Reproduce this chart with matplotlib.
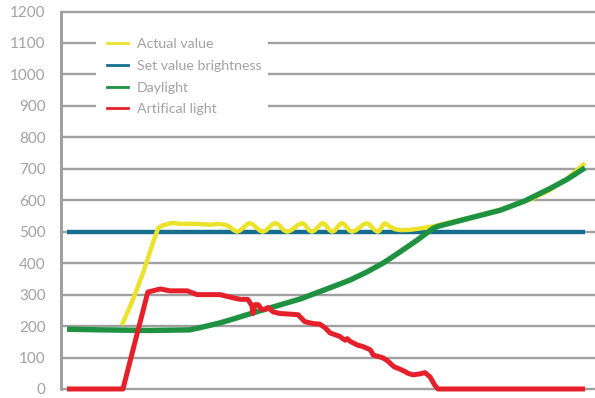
import matplotlib
matplotlib.use("Agg")
import matplotlib.pyplot as plt
from matplotlib.lines import Line2D
from matplotlib.patches import Rectangle

# ---- data (time in arbitrary units 0..100, values in lux) ----
set_t = [0, 100]
set_v = [500, 500]

actual_t = [10.6, 12.7, 14.7, 16.6, 17.6, 18.5, 20.3, 21.8, 25.1, 27.6, 29.2, 30.5,
            31.2, 32.1,
            32.8, 33.4, 34.05, 34.7, 35.3, 35.9, 36.55, 37.2,
            37.8, 38.4, 39.0, 39.6, 40.2, 40.8, 41.35, 41.9,
            42.5, 43.2, 43.95, 44.7, 45.4, 45.9, 46.35, 46.8,
            47.3, 47.8, 48.35, 48.9, 49.4, 49.85, 50.3, 50.75,
            51.2, 51.7, 52.15, 52.6, 53.1, 53.6, 54.05, 54.5,
            55.0, 55.7, 56.45, 57.2, 57.9, 58.4, 58.95, 59.5,
            60.0, 60.35, 60.7, 61.05, 61.4,
            62.3, 63.3, 64.5, 66.2, 68.1, 71.0, 77.2, 83.6, 90.0, 93.2, 96.5, 100]
actual_v = [203, 283, 370, 465, 512, 520, 528, 525, 525, 522, 525, 522,
            518, 506,
            500, 504, 513, 523, 527, 523, 513, 504,
            500, 504, 513, 523, 527, 523, 513, 504,
            500, 504, 513, 523, 527, 523, 513, 504,
            500, 504, 513, 523, 527, 523, 513, 504,
            500, 504, 513, 523, 527, 523, 513, 504,
            500, 504, 513, 523, 527, 523, 513, 504,
            500, 504, 513, 523, 527,
            517, 508, 505, 506, 510, 518, 542, 570, 606, 632, 668, 718]

day_t = [0, 6.4, 16.0, 23.7, 25.7, 29.5, 32.0, 35.9, 38.6, 42.5, 45.0, 50.8,
         54.6, 57.9, 61.2, 64.3, 67.5, 70.7, 71.6, 77.2, 83.6, 88.4, 93.2, 96.5, 100]
day_v = [190, 188, 186, 188, 195, 210, 222, 242, 255, 274, 286, 322,
         346, 372, 402, 436, 472, 511, 517, 541, 568, 598, 637, 666, 703]

art_t = [0, 10.8, 15.6, 18.0, 19.9, 23.2, 25.1, 29.5, 31.5, 33.4, 34.9, 35.7,
         35.9, 36.3, 36.9, 37.6, 38.2, 38.8, 39.8, 41.1, 43.1, 44.6, 45.9, 47.5,
         48.8, 49.8, 50.8, 52.7, 53.2, 53.7, 54.1, 54.6, 56.0, 57.1, 58.5, 58.8,
         59.1, 60.8, 61.4, 62.0, 62.7, 63.2, 64.3, 65.3, 65.8, 66.8, 68.1, 69.1,
         70.1, 71.0, 71.6, 100]
art_v = [0, 0, 308, 318, 312, 312, 300, 300, 292, 285, 285, 265,
         240, 268, 268, 253, 253, 259, 245, 240, 238, 236, 214, 208,
         206, 195, 178, 167, 160, 155, 160, 152, 140, 135, 125, 118,
         108, 100, 95, 88, 77, 70, 63, 55, 50, 45, 48, 52,
         38, 12, 0, 0]

yticks = [0, 100, 200, 300, 400, 500, 600, 700, 800, 900, 1000, 1100, 1200]
labels = ["Actual value", "Set value brightness", "Daylight", "Artifical light"]

c_yellow = "#ebe32b"
c_blue = "#176f8f"
c_green = "#1f9242"
c_red = "#e5202b"
c_gray = "#a0a0a0"
c_text = "#a2a2a2"

plt.rcParams['font.family'] = ['Lato', 'DejaVu Sans']

fig = plt.figure(figsize=(5.95, 3.98), dpi=100)
W, H = 595, 398
ax = fig.add_axes([61 / W, 4.3 / H, 1 - 61 / W, (393.7 - 6.8) / H])
ax.set_xlim(-1.16, 101.93)
ax.set_ylim(-15, 1215)

for s in ["top", "right", "bottom"]:
    ax.spines[s].set_visible(False)
ax.spines["left"].set_bounds(0, 1200)
ax.spines["left"].set_color(c_gray)
ax.spines["left"].set_linewidth(2.2)

ax.set_yticks(yticks)
ax.set_yticklabels([str(v) for v in yticks])
ax.tick_params(axis="y", length=0, pad=11, labelsize=11, labelcolor=c_text)
ax.set_xticks([])
ax.yaxis.grid(True, color=c_gray, linewidth=1.7)
ax.set_axisbelow(True)

ax.plot(set_t, set_v, color=c_blue, lw=3.2, solid_capstyle="butt", zorder=2)
ax.plot(actual_t, actual_v, color=c_yellow, lw=3.2, solid_joinstyle="round",
        solid_capstyle="butt", zorder=3)
ax.plot(day_t, day_v, color=c_green, lw=3.9, solid_joinstyle="round",
        solid_capstyle="butt", zorder=4)
ax.plot(art_t, art_v, color=c_red, lw=3.6, solid_joinstyle="round",
        solid_capstyle="butt", zorder=5)

# white box behind legend
ax.add_patch(Rectangle((96 / W, 1 - 124 / H), (268 - 96) / W, (124 - 28) / H,
                       transform=fig.transFigure, facecolor="white",
                       edgecolor="none", zorder=6, clip_on=False))

handles = [Line2D([], [], color=c, lw=2.0) for c in [c_yellow, c_blue, c_green, c_red]]
leg = ax.legend(handles, labels, loc="upper left",
                bbox_to_anchor=(107 / W, 1 - 38 / H),
                bbox_transform=fig.transFigure, frameon=False,
                prop={"size": 10.2},
                handlelength=1.45, handletextpad=0.65,
                labelspacing=0.69, borderpad=0, borderaxespad=0)
leg.set_zorder(7)
for t in leg.get_texts():
    t.set_color(c_text)

fig.savefig("out.png", dpi=100)
